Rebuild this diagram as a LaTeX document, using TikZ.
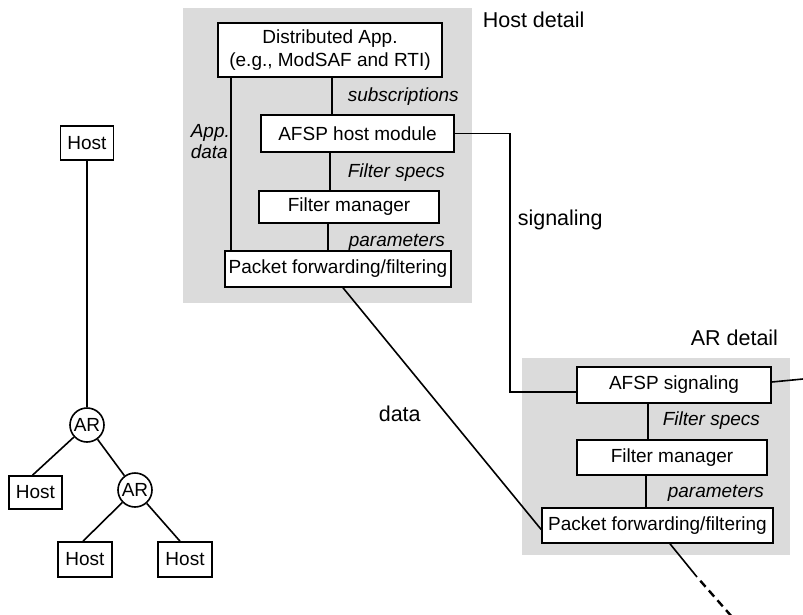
\documentclass[tikz,border=0pt]{standalone}
\usepackage{fontspec}
\setmainfont{Liberation Sans}
\usetikzlibrary{positioning}
\definecolor{cgray}{rgb}{0.86,0.86,0.86}

\begin{document}
\begin{tikzpicture}[x=1pt,y=-1pt,line width=1.6pt,
  box node/.style={draw,fill=white,inner sep=0pt,font=\fontsize{19}{23}\selectfont},
  router node/.style={circle,draw,fill=white,inner sep=0pt,minimum size=34pt,font=\fontsize{19}{23}\selectfont},
  note/.style={inner sep=0pt,font=\fontsize{19}{21}\selectfont\itshape},
  title/.style={inner sep=0pt,font=\fontsize{21.5}{24}\selectfont}]
  \useasboundingbox (0,0) rectangle (803,614);

  % shaded detail areas
  \fill[cgray] (183,8) rectangle (472,303);
  \fill[cgray] (522,358) rectangle (790,555);

  % host detail
  \node[box node,minimum width=224pt,minimum height=54pt,align=center] (app) at (330,50) {Distributed App.\\(e.g., ModSAF and RTI)};
  \node[box node,minimum width=193pt,minimum height=37pt] (hmod) at (357.5,133.5) {AFSP host module};
  \node[box node,minimum width=180pt,minimum height=32pt] (hfm) at (349,207) {Filter manager};
  \node[box node,minimum width=226pt,minimum height=36pt] (hpkt) at (338,269) {Packet forwarding/filtering};

  % AR detail
  \node[box node,minimum width=194pt,minimum height=36pt] (asig) at (674,385) {AFSP signaling};
  \node[box node,minimum width=190pt,minimum height=35pt] (afm) at (672,457.5) {Filter manager};
  \node[box node,minimum width=231pt,minimum height=35pt] (apkt) at (657.5,525.5) {Packet forwarding/filtering};

  % the tree
  \node[box node,minimum width=53pt,minimum height=34pt] (h0) at (87,143) {Host};
  \node[router node] (r1) at (87,425) {AR};
  \node[box node,minimum width=53pt,minimum height=33pt] (h1) at (35.5,492.5) {Host};
  \node[router node] (r2) at (135,490) {AR};
  \node[box node,minimum width=54pt,minimum height=35pt] (h2) at (85,559.5) {Host};
  \node[box node,minimum width=54pt,minimum height=35pt] (h3) at (185,559.5) {Host};

  \path
    (h0) edge (r1)
    (r1) edge ([xshift=-3pt]h1.north)
    (r1) edge (r2)
    (r2) edge ([xshift=-2pt]h2.north)
    (r2) edge ([xshift=-5pt]h3.north);

  % labels
  \node[title,anchor=base west] (hostlbl) at (482,27) {Host detail};
  \node[title,anchor=base west] (arlbl) at (690,345) {AR detail};
  \node[title,anchor=base west] (siglbl) at (517,225) {signaling};
  \node[title,anchor=base west] (datalbl) at (378,421) {data};
  \node[note,anchor=base west] (subs) at (347,101) {subscriptions};
  \node[note,anchor=base west] (hspecs) at (347,177) {Filter specs};
  \node[note,anchor=base west] (hparams) at (348,246) {parameters};
  \node[note,anchor=base west] (aspecs) at (662,425) {Filter specs};
  \node[note,anchor=base west] (aparams) at (667,497) {parameters};
  \node[note,anchor=north west,align=left] (appdata) at (190,124) {App.\\data};

  % connectors
  \draw ([xshift=2pt]app.south) -- ([xshift=2pt]app.south |- hmod.north);
  \draw ([xshift=-19pt]hfm.north) -- ([xshift=-19pt]hfm.north |- hmod.south);
  \draw ([xshift=-10pt]hpkt.north) -- ([xshift=-10pt]hpkt.north |- hfm.south);
  \draw ([xshift=14pt]app.south west) -- ([xshift=14pt]app.south west |- hpkt.north);
  \draw ([xshift=-24pt]afm.north) -- ([xshift=-24pt]afm.north |- asig.south);
  \draw ([xshift=-11.5pt]apkt.north) -- ([xshift=-11.5pt]apkt.north |- afm.south);

  \coordinate (bend) at (510,133.5);
  \draw (hmod.east) -- (bend) |- ([yshift=-7pt]asig.west);
  \coordinate (arout) at (803,379);
  \draw ([yshift=3pt]asig.east) -- (arout);
  \draw ([xshift=5pt]hpkt.south) -- ([yshift=-4pt]apkt.west);

  \coordinate (dn1) at (697,577);
  \coordinate (dn2) at (733,618);
  \draw ([xshift=12.5pt]apkt.south) -- (dn1);
  \draw[line width=2.4pt,dash pattern=on 8pt off 5pt,dash phase=8pt] (dn1) -- (dn2);
\end{tikzpicture}
\end{document}
